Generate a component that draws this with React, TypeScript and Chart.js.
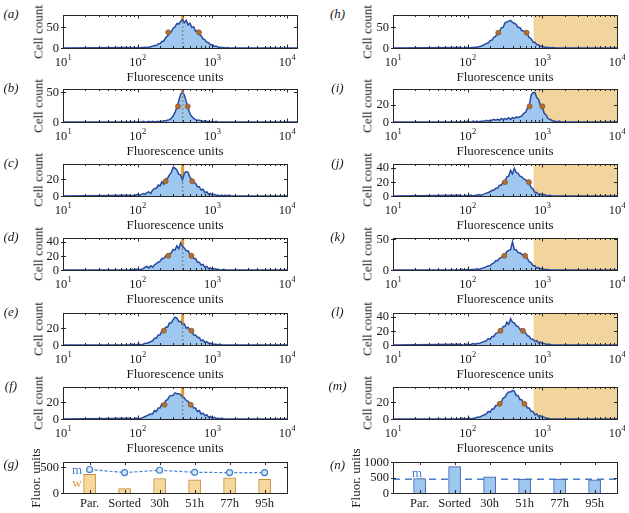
import React, { useEffect, useRef } from 'react';
import { Chart, registerables } from 'chart.js';

Chart.register(...registerables);

const SERIF = '"Liberation Serif", "Times New Roman", Times, serif';

// ---------------- data ----------------
// histogram bin centres (fluorescence units)
const BIN_CENTERS = [79.4, 84.1, 89.1, 94.4, 100, 105.9, 112.2, 118.9, 125.9, 133.4, 141.3, 149.6, 158.5, 167.9, 177.8, 188.4, 199.5, 211.3, 223.9, 237.1, 251.2, 266.1, 281.8, 298.5, 316.2, 335.0, 354.8, 375.8, 398.1, 421.7, 446.7, 473.2, 501.2, 530.9, 562.3, 595.7, 631.0, 668.3, 707.9, 749.9, 794.3, 841.4, 891.3, 944.1, 1000, 1059, 1122, 1189, 1259, 1334, 1413, 1496, 1585, 1679, 1778];

const COUNTS_A = [1,0,1,0,1, 0,1,1,2,1, 2,3,4,6,6, 10,11,16,17,25, 29,37,39,48,51, 59,58,64,69,61, 67,56,60,50,51, 41,42,32,30,22, 20,14,13,8,8, 4,5,2,2,1, 1,0,1,0,0];
const COUNTS_B = [0,0,0,0,0, 0,0,1,0,0, 1,0,1,0,1, 1,1,1,2,2, 3,4,6,10,16, 24,35,46,50,45, 34,23,14,9,6, 4,3,3,2,1, 2,1,1,0,1, 0,1,0,0,0, 0,0,0,0,0];
const COUNTS_C = [1,0,1,1,2, 1,2,3,2,4, 5,3,7,9,9, 13,12,17,14,20, 21,25,28,34,33, 31,26,25,19,27, 29,28,22,20,16, 15,11,11,7,8, 4,5,2,3,1, 2,1,1,0,1, 0,1,0,1,0];
const COUNTS_D = [0,1,0,1,1, 0,1,2,4,5, 3,6,4,7,9, 11,12,16,16,20, 21,23,24,29,28, 34,30,38,33,31, 27,27,22,21,16, 16,11,11,7,8, 4,5,2,3,1, 2,1,1,0,0, 1,0,0,0,0];
const COUNTS_E = [0,1,0,0,1, 1,0,1,2,2, 3,4,5,8,8, 12,12,17,16,21, 21,26,26,30,33, 32,28,28,24,25, 20,21,17,17,12, 12,9,9,5,6, 3,4,2,2,1, 1,1,0,1,0, 0,0,0,0,0];
const COUNTS_F = [1,0,0,1,1, 0,1,2,3,4, 5,6,6,10,9, 13,13,18,17,22, 23,27,28,28,31, 30,30,29,26,25, 22,21,17,17,13, 13,9,10,6,7, 4,5,2,3,1, 2,1,1,0,1, 0,0,0,0,0];
const COUNTS_H = [1,0,0,1,1, 0,1,1,2,2, 3,4,6,8,11, 12,18,19,26,28, 37,38,49,50,61, 63,65,67,62,60, 57,50,50,42,42, 36,34,25,23,14, 14,8,8,4,4, 2,2,1,1,0, 1,0,0,0,0];
const COUNTS_I = [0,0,0,0,1, 0,0,1,0,1, 0,1,1,1,2, 1,2,2,3,2, 3,2,4,3,4, 3,5,3,5,4, 6,5,6,7,10, 11,16,19,31,34, 34,28,26,19,17, 10,8,4,3,2, 1,1,0,1,0];
const COUNTS_J = [1,0,0,1,0, 1,1,0,1,1, 2,1,2,3,4, 5,6,8,8,11, 11,15,15,20,21, 27,28,36,31,39, 33,32,28,27,24, 23,20,18,12,10, 5,5,2,3,1, 2,1,0,1,0, 0,0,0,0,0];
const COUNTS_K = [0,1,0,0,1, 0,1,1,1,2, 1,2,3,4,5, 7,7,10,11,15, 15,19,20,24,25, 30,32,33,46,33, 33,28,28,25,25, 21,19,13,12,7, 7,3,4,2,2, 1,1,1,0,0, 0,0,0,0,0];
const COUNTS_L = [1,0,0,1,1, 0,1,2,1,2, 2,3,4,5,6, 9,8,12,12,16, 17,20,21,26,26, 32,29,37,32,31, 27,26,22,22,18, 17,13,12,8,8, 5,6,3,4,2, 2,1,1,1,0, 0,0,0,0,0];
const COUNTS_M = [0,1,0,0,1, 1,0,1,1,2, 2,3,4,5,6, 9,8,12,12,16, 16,20,20,25,26, 30,32,32,34,33, 28,28,23,23,18, 18,13,13,9,9, 5,6,3,4,2, 2,1,1,0,0, 0,0,0,0,0];

const LEFT_LETTERS = ['a', 'b', 'c', 'd', 'e', 'f'];
const LEFT_COUNTS = [COUNTS_A, COUNTS_B, COUNTS_C, COUNTS_D, COUNTS_E, COUNTS_F];
const LEFT_YMAX = [80, 55, 38, 45, 38, 38];
const LEFT_YTICKS = [[0, 50], [0, 50], [0, 20], [0, 20, 40], [0, 20], [0, 20]];
const LEFT_XMAX = [13610, 13610, 10000, 10000, 10000, 10000];
const LEFT_W_LOW = [257, 347, 237, 257, 224, 229];
const LEFT_W_HIGH = [661, 468, 537, 525, 525, 513];
const LEFT_W_COUNT = [38, 26, 17.5, 20, 17, 17];
const LEFT_MEAN = 400;
const LEFT_MEAN_COUNT = [66, 50, 20, 34, 25, 27];

const RIGHT_LETTERS = ['h', 'i', 'j', 'k', 'l', 'm'];
const RIGHT_COUNTS = [COUNTS_H, COUNTS_I, COUNTS_J, COUNTS_K, COUNTS_L, COUNTS_M];
const RIGHT_YMAX = [80, 38, 45, 52, 45, 38];
const RIGHT_YTICKS = [[0, 50], [0, 20], [0, 20, 40], [0, 50], [0, 20, 40], [0, 20]];
const RIGHT_W_LOW = [257, 676, 316, 309, 275, 269];
const RIGHT_W_HIGH = [617, 1000, 661, 589, 550, 575];
const RIGHT_W_COUNT = [37, 18, 19.5, 23, 20, 18];
const GATE = 765;

const X_MIN = 10;
const X_EXPONENTS = [1, 2, 3, 4];

const CATEGORIES = ['Par.', 'Sorted', '30h', '51h', '77h', '95h'];
const G_W_BARS = [360, 85, 280, 255, 295, 265];
const G_M_LINE = [455, 395, 440, 400, 395, 395];
const G_YTICKS = [0, 500];
const G_YMAX = 600;
const N_M_BARS = [468, 851, 521, 447, 447, 425];
const N_M_REF = 447;
const N_YTICKS = [0, 500, 1000];
const N_YMAX = 1000;
const BAR_X_MIN = -0.76;
const BAR_X_MAX = 5.64;

// ---------------- styles ----------------
const BLUE_LINE = '#2a4a9e';
const BLUE_FILL = '#9ec8f0';
const ORANGE = '#e5982f';
const DOT = '#b36f36';
const DOT_EDGE = '#8a5528';
const GATE_FILL = '#f2d59c';
const TXT = '#1a1a1a';
const M_BLUE = '#3f7fd0';
const W_TAN = '#cf9540';

const M = { l: 36, r: 8, t: 6, b: 24 };

function makeFrame(opts: { yTicks: number[]; log?: boolean; categories?: string[]; gate?: number }) {
  return {
    id: 'frame',
    beforeDatasetsDraw(chart: any) {
      if (opts.gate == null) return;
      const { ctx, chartArea: a, scales } = chart;
      const gx = scales.x.getPixelForValue(opts.gate);
      ctx.save();
      ctx.fillStyle = GATE_FILL;
      ctx.fillRect(gx, a.top, a.right - gx, a.bottom - a.top);
      ctx.restore();
    },
    afterDraw(chart: any) {
      const { ctx, chartArea: a, scales } = chart;
      const x = scales.x, y = scales.y;
      const L = Math.round(a.left), R = Math.round(a.right), T = Math.round(a.top), B = Math.round(a.bottom);
      ctx.save();
      ctx.strokeStyle = '#262626';
      ctx.lineWidth = 1;
      ctx.beginPath();
      for (const v of opts.yTicks) {
        const py = Math.round(y.getPixelForValue(v)) + 0.5;
        ctx.moveTo(L - 2, py); ctx.lineTo(L + 3, py);
        ctx.moveTo(R - 3, py); ctx.lineTo(R, py);
      }
      if (opts.log) {
        for (let d = 1; d <= 4; d++) {
          for (let k = 1; k <= 9; k++) {
            const v = k * Math.pow(10, d);
            if (v > x.max * 1.0001) continue;
            const px = Math.round(x.getPixelForValue(v)) + 0.5;
            const len = k === 1 ? 3.5 : 2;
            ctx.moveTo(px, B); ctx.lineTo(px, B - len);
            ctx.moveTo(px, T); ctx.lineTo(px, T + len);
          }
        }
      } else if (opts.categories) {
        opts.categories.forEach((_c, i) => {
          const px = Math.round(x.getPixelForValue(i)) + 0.5;
          ctx.moveTo(px, B); ctx.lineTo(px, B - 3);
          ctx.moveTo(px, T); ctx.lineTo(px, T + 3);
        });
      }
      ctx.stroke();
      ctx.strokeRect(L + 0.5, T + 0.5, R - L, B - T);

      ctx.fillStyle = TXT;
      ctx.font = `12.5px ${SERIF}`;
      ctx.textAlign = 'right';
      ctx.textBaseline = 'middle';
      for (const v of opts.yTicks) ctx.fillText(String(v), L - 4, y.getPixelForValue(v) + 0.5);

      if (opts.log) {
        for (const e of X_EXPONENTS) {
          const px = x.getPixelForValue(Math.pow(10, e));
          ctx.font = `12.5px ${SERIF}`;
          const w1 = ctx.measureText('10').width;
          ctx.font = `8.5px ${SERIF}`;
          const w2 = ctx.measureText(String(e)).width;
          const x0 = px - (w1 + w2) / 2;
          ctx.textAlign = 'left';
          ctx.textBaseline = 'alphabetic';
          ctx.font = `12.5px ${SERIF}`;
          ctx.fillText('10', x0, B + 17.5);
          ctx.font = `8.5px ${SERIF}`;
          ctx.fillText(String(e), x0 + w1 + 0.3, B + 12);
        }
      } else if (opts.categories) {
        ctx.font = `12.5px ${SERIF}`;
        ctx.textAlign = 'center';
        ctx.textBaseline = 'top';
        opts.categories.forEach((c, i) => ctx.fillText(c, x.getPixelForValue(i), B + 4));
      }
      ctx.restore();
    },
  };
}

function commonOptions(xScale: any, yMax: number) {
  return {
    responsive: false,
    maintainAspectRatio: false,
    animation: false,
    devicePixelRatio: 1,
    events: [],
    layout: { padding: { left: M.l, right: M.r, top: M.t, bottom: M.b } },
    scales: {
      x: { ...xScale, display: false },
      y: { type: 'linear', min: 0, max: yMax, display: false },
    },
    plugins: { legend: { display: false }, tooltip: { enabled: false } },
  };
}

function histConfig(p: {
  counts: number[]; yMax: number; yTicks: number[]; xMax: number;
  wLow: number; wHigh: number; wCount: number; mean?: number; meanCount?: number; gate?: number;
}) {
  const datasets: any[] = [];
  if (p.mean != null) {
    datasets.push({
      data: [{ x: p.mean, y: 0 }, { x: p.mean, y: p.yMax }],
      borderColor: ORANGE, borderWidth: 3, pointRadius: 0, order: 5,
    });
  }
  datasets.push({
    data: [{ x: X_MIN, y: 0 }, ...BIN_CENTERS.map((b, i) => ({ x: b, y: p.counts[i] })), { x: p.xMax, y: 0 }],
    borderColor: BLUE_LINE, borderWidth: 1.5, backgroundColor: BLUE_FILL, fill: 'origin',
    pointRadius: 0, tension: 0, order: 4,
  });
  if (p.mean != null && p.meanCount != null) {
    datasets.push({
      data: [{ x: p.mean, y: 0 }, { x: p.mean, y: p.meanCount }],
      borderColor: '#8e8e8e', borderWidth: 1.6, borderDash: [2, 2], pointRadius: 0, order: 3,
    });
  }
  datasets.push({
    data: [{ x: p.wLow, y: p.wCount }, { x: p.wHigh, y: p.wCount }],
    showLine: false, pointRadius: 2.5, pointBackgroundColor: DOT, pointBorderColor: DOT_EDGE,
    pointBorderWidth: 0.8, order: 1,
  });
  return {
    type: 'line',
    data: { datasets },
    options: commonOptions({ type: 'logarithmic', min: X_MIN, max: p.xMax }, p.yMax),
    plugins: [makeFrame({ yTicks: p.yTicks, log: true, gate: p.gate })],
  };
}

function gConfig() {
  return {
    type: 'line',
    data: {
      datasets: [
        {
          type: 'bar',
          data: CATEGORIES.map((_c, i) => ({ x: i, y: G_W_BARS[i] })),
          backgroundColor: '#f6d89c', borderColor: '#c18b3d', borderWidth: 1, barThickness: 12, order: 2,
        },
        {
          type: 'line',
          data: CATEGORIES.map((_c, i) => ({ x: i, y: G_M_LINE[i] })),
          borderColor: M_BLUE, borderWidth: 1.2, borderDash: [3, 2], pointRadius: 3,
          pointBackgroundColor: '#dbe8f8', pointBorderColor: M_BLUE, pointBorderWidth: 1.2, order: 1,
        },
      ],
    },
    options: commonOptions({ type: 'linear', min: BAR_X_MIN, max: BAR_X_MAX, offset: false }, G_YMAX),
    plugins: [makeFrame({ yTicks: G_YTICKS, categories: CATEGORIES })],
  };
}

function nConfig() {
  return {
    type: 'line',
    data: {
      datasets: [
        {
          type: 'line',
          data: [{ x: BAR_X_MIN, y: N_M_REF }, { x: BAR_X_MAX, y: N_M_REF }],
          borderColor: '#4a80d0', borderWidth: 1.5, borderDash: [7, 5], pointRadius: 0, order: 3,
        },
        {
          type: 'bar',
          data: CATEGORIES.map((_c, i) => ({ x: i, y: N_M_BARS[i] })),
          backgroundColor: '#9ec8ef', borderColor: '#3a5ea6', borderWidth: 1, barThickness: 12, order: 2,
        },
      ],
    },
    options: commonOptions({ type: 'linear', min: BAR_X_MIN, max: BAR_X_MAX, offset: false }, N_YMAX),
    plugins: [makeFrame({ yTicks: N_YTICKS, categories: CATEGORIES })],
  };
}

function ChartBox(props: { left: number; top: number; width: number; height: number; config: () => any }) {
  const ref = useRef<HTMLCanvasElement | null>(null);
  useEffect(() => {
    if (!ref.current) return;
    const chart = new Chart(ref.current, props.config() as any);
    return () => chart.destroy();
  }, []);
  const W = props.width + M.l + M.r;
  const H = props.height + M.t + M.b;
  return (
    <canvas
      ref={ref}
      width={W}
      height={H}
      style={{ position: 'absolute', left: props.left - M.l, top: props.top - M.t, width: W, height: H }}
    />
  );
}

function Txt(props: { x: number; y: number; children: any; rot?: boolean; color?: string; italic?: boolean; size?: number }) {
  return (
    <div
      style={{
        position: 'absolute', left: props.x, top: props.y,
        transform: `translate(-50%, -50%)${props.rot ? ' rotate(-90deg)' : ''}`,
        whiteSpace: 'nowrap', fontFamily: SERIF, fontSize: props.size ?? 13, lineHeight: 1,
        color: props.color ?? TXT, fontStyle: props.italic ? 'italic' : 'normal',
      }}
    >
      {props.children}
    </div>
  );
}

// layout
const LEFT_X0 = 63;
const RIGHT_X0 = 393;
const PLOT_W = 224;
const HIST_TOPS = [15, 89, 164, 238, 313, 387];
const HIST_H = [33, 33, 32, 32, 32, 32];
const BAR_TOP = 462;
const BAR_H = 31;

export default function App() {
  const items: any[] = [];
  LEFT_LETTERS.forEach((letter, i) => {
    const top = HIST_TOPS[i], h = HIST_H[i];
    const w = i < 2 ? 234 : PLOT_W;
    items.push(
      <ChartBox key={'c' + letter} left={LEFT_X0} top={top} width={w} height={h}
        config={() => histConfig({
          counts: LEFT_COUNTS[i], yMax: LEFT_YMAX[i], yTicks: LEFT_YTICKS[i], xMax: LEFT_XMAX[i],
          wLow: LEFT_W_LOW[i], wHigh: LEFT_W_HIGH[i], wCount: LEFT_W_COUNT[i],
          mean: LEFT_MEAN, meanCount: LEFT_MEAN_COUNT[i],
        })} />,
      <Txt key={'l' + letter} x={11} y={top - 2} italic>({letter})</Txt>,
      <Txt key={'y' + letter} x={38} y={top + h / 2} rot>Cell count</Txt>,
      <Txt key={'x' + letter} x={LEFT_X0 + PLOT_W / 2} y={top + h + 27.5}>Fluorescence units</Txt>,
    );
  });
  RIGHT_LETTERS.forEach((letter, i) => {
    const top = HIST_TOPS[i], h = HIST_H[i];
    items.push(
      <ChartBox key={'c' + letter} left={RIGHT_X0} top={top} width={PLOT_W} height={h}
        config={() => histConfig({
          counts: RIGHT_COUNTS[i], yMax: RIGHT_YMAX[i], yTicks: RIGHT_YTICKS[i], xMax: 10000,
          wLow: RIGHT_W_LOW[i], wHigh: RIGHT_W_HIGH[i], wCount: RIGHT_W_COUNT[i], gate: GATE,
        })} />,
      <Txt key={'l' + letter} x={337.5} y={top - 2} italic>({letter})</Txt>,
      <Txt key={'y' + letter} x={367} y={top + h / 2} rot>Cell count</Txt>,
      <Txt key={'x' + letter} x={RIGHT_X0 + PLOT_W / 2} y={top + h + 27.5}>Fluorescence units</Txt>,
    );
  });
  return (
    <div style={{ position: 'absolute', left: 0, top: 0, width: 629, height: 513, background: '#fff', overflow: 'hidden' }}>
      {items}
      <ChartBox left={LEFT_X0} top={BAR_TOP} width={PLOT_W} height={BAR_H} config={gConfig} />
      <Txt x={11} y={BAR_TOP + 1} italic>(g)</Txt>
      <Txt x={35} y={BAR_TOP + BAR_H / 2} rot>Fluor. units</Txt>
      <Txt x={77} y={468.5} color={M_BLUE}>m</Txt>
      <Txt x={77} y={481.5} color={W_TAN}>w</Txt>
      <ChartBox left={RIGHT_X0} top={BAR_TOP} width={PLOT_W} height={BAR_H} config={nConfig} />
      <Txt x={337.5} y={BAR_TOP + 2} italic>(n)</Txt>
      <Txt x={355} y={BAR_TOP + BAR_H / 2} rot>Fluor. units</Txt>
      <Txt x={417} y={472} color={M_BLUE}>m</Txt>
    </div>
  );
}
